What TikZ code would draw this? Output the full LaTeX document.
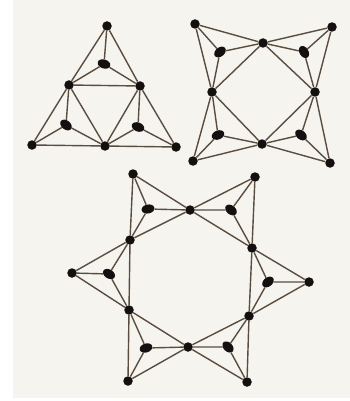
\documentclass[tikz,border=0pt]{standalone}
\usetikzlibrary{shapes.geometric}
\definecolor{paper}{HTML}{F6F4EE}
\definecolor{ink}{HTML}{141010}
\definecolor{edgecol}{HTML}{5A4D40}
\begin{document}
\begin{tikzpicture}[x=1pt,y=-1pt,
  vtx/.style={circle,fill=ink,inner sep=0pt,minimum size=9.5pt},
  blob/.style={ellipse,fill=ink,inner sep=0pt,minimum width=13pt,minimum height=9pt},
  edge/.style={draw=edgecol,line width=1.4pt}]
\fill[white] (0,0) rectangle (350,401);
\fill[paper] (13,0) rectangle (350,398);
\useasboundingbox (0,0) rectangle (350,401);
% ---------- triangle ----------
\node[vtx] (T) at (107,26) {};
\node[vtx] (L) at (69,85) {};
\node[vtx] (R) at (140,86) {};
\node[vtx] (BL) at (32,145) {};
\node[vtx] (BM) at (105,146) {};
\node[vtx] (BR) at (176,147) {};
\node[blob,rotate=-18] (I1) at (104,64) {};
\node[blob,rotate=-39] (I2) at (66,125) {};
\node[blob,rotate=-22] (I3) at (138,127) {};
\foreach \a/\b in {T/L,L/BL,T/R,R/BR,BL/BM,BM/BR,L/R,L/BM,R/BM,
  T/I1,I1/L,I1/R,BL/I2,I2/L,I2/BM,BR/I3,I3/R,I3/BM}
  \draw[edge] (\a) -- (\b);
% ---------- square ----------
\node[vtx] (sTL) at (195,24) {};
\node[vtx] (sTR) at (332,27) {};
\node[vtx] (sTM) at (263,43) {};
\node[vtx] (sLM) at (212,92) {};
\node[vtx] (sRM) at (315,92) {};
\node[vtx] (sBM) at (262,144) {};
\node[vtx] (sBL) at (193,161) {};
\node[vtx] (sBR) at (330,163) {};
\node[blob,rotate=39] (sA) at (220,52) {};
\node[blob,rotate=-59] (sB) at (304,52) {};
\node[blob,rotate=22] (sC) at (218,135) {};
\node[blob,rotate=-39] (sD) at (301,135) {};
\foreach \a/\b in {sTL/sTM,sTM/sTR,sTR/sRM,sRM/sBR,sBR/sBM,sBM/sBL,sBL/sLM,sLM/sTL,
  sTM/sLM,sLM/sBM,sBM/sRM,sRM/sTM,
  sA/sTL,sA/sTM,sA/sLM,sB/sTR,sB/sTM,sB/sRM,sC/sBL,sC/sLM,sC/sBM,sD/sBR,sD/sRM,sD/sBM}
  \draw[edge] (\a) -- (\b);
% ---------- hexagram ----------
\node[vtx] (TLo) at (133,174) {};
\node[vtx] (TRo) at (255,177) {};
\node[vtx] (Ro) at (309,282) {};
\node[vtx] (BRo) at (247,382) {};
\node[vtx] (BLo) at (128,381) {};
\node[vtx] (Lo) at (72,273) {};
\node[vtx] (Tm) at (190,210) {};
\node[vtx] (URm) at (252,248) {};
\node[vtx] (LRm) at (249,316) {};
\node[vtx] (Bm) at (188,347) {};
\node[vtx] (LLm) at (129,310) {};
\node[vtx] (ULm) at (130,240) {};
\node[blob,rotate=11] (hA) at (148,209) {};
\node[blob,rotate=-39] (hB) at (231,210) {};
\node[blob,rotate=-31] (hC) at (109,274) {};
\node[blob,rotate=39] (hD) at (268,282) {};
\node[blob,rotate=18] (hE) at (146,348) {};
\node[blob,rotate=-45] (hF) at (228,347) {};
\foreach \a/\b in {TLo/Tm,Tm/URm,URm/Ro,TRo/Tm,Tm/ULm,ULm/Lo,
  TLo/ULm,ULm/LLm,LLm/BLo,TRo/URm,URm/LRm,LRm/BRo,
  Lo/LLm,LLm/Bm,Bm/BRo,Ro/LRm,LRm/Bm,Bm/BLo,
  hA/TLo,hA/Tm,hA/ULm,hB/TRo,hB/Tm,hB/URm,hC/Lo,hC/ULm,hC/LLm,
  hD/Ro,hD/URm,hD/LRm,hE/BLo,hE/LLm,hE/Bm,hF/BRo,hF/LRm,hF/Bm}
  \draw[edge] (\a) -- (\b);
\end{tikzpicture}
\end{document}
